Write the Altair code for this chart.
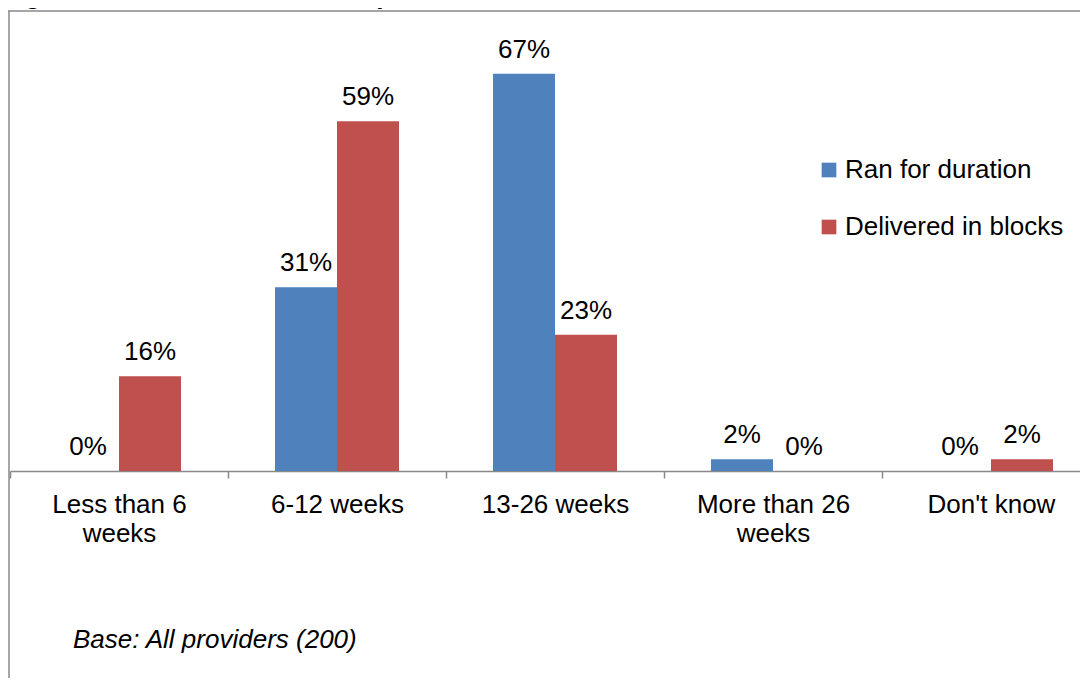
import altair as alt
import pandas as pd

# ---- data ----
categories = ["Less than 6 weeks", "6-12 weeks", "13-26 weeks", "More than 26 weeks", "Don't know"]
category_lines = [["Less than 6", "weeks"], ["6-12 weeks"], ["13-26 weeks"], ["More than 26", "weeks"], ["Don't know"]]
series = ["Ran for duration", "Delivered in blocks"]
ran_for_duration = [0, 31, 67, 2, 0]
delivered_in_blocks = [16, 59, 23, 0, 2]
colors = ["#4F81BD", "#C0504D"]
title_text = "Figure 10: Duration of work experience element"
base_note = "Base: All providers (200)"

rows = []
for c, a, b in zip(categories, ran_for_duration, delivered_in_blocks):
    rows.append({"category": c, "series": series[0], "value": a, "label": f"{a}%"})
    rows.append({"category": c, "series": series[1], "value": b, "label": f"{b}%"})
df = pd.DataFrame(rows)

FONT = "Liberation Sans"
GREY = "#898989"
W, H = 1071, 460

# label expression for two-line category labels
parts = []
for c, lines in zip(categories, category_lines):
    if len(lines) > 1:
        arr = "[" + ", ".join("'" + s.replace("'", "\\'") + "'" for s in lines) + "]"
        parts.append(f"datum.label == '{c}' ? {arr} : ")
label_expr = "".join(parts) + "datum.label"

x_enc = alt.X(
    "category:N",
    sort=categories,
    scale=alt.Scale(range=[1, 1091], paddingInner=0, paddingOuter=0),
    axis=alt.Axis(
        title=None, labelAngle=0, tickBand="extent", tickSize=7, tickColor=GREY,
        tickWidth=1.5, domainColor=GREY, domainWidth=1.5, labelFont=FONT,
        labelFontSize=26, labelColor="#000000", labelPadding=13, labelLineHeight=29,
        labelLimit=0, labelOverlap=False, labelFlush=False, labelExpr=label_expr,
    ),
)
xoff = alt.XOffset("series:N", sort=series, scale=alt.Scale(paddingInner=0, paddingOuter=0.758))
y_enc = alt.Y("value:Q", scale=alt.Scale(domain=[0, 77.6], nice=False, zero=True), axis=None)

base = alt.Chart(df)

bars = base.mark_bar().encode(
    x=x_enc,
    xOffset=xoff,
    y=y_enc,
    color=alt.Color(
        "series:N",
        sort=series,
        scale=alt.Scale(domain=series, range=colors),
        legend=alt.Legend(
            title=None, orient="none", legendX=807, legendY=146, symbolType="square",
            symbolSize=215, symbolStrokeWidth=0, labelFontSize=26, labelFont=FONT,
            labelColor="#000000", labelOffset=3, rowPadding=31, padding=0, labelLimit=400,
        ),
    ),
)

labels = base.mark_text(font=FONT, fontSize=26, color="#000000", baseline="alphabetic", dy=-16).encode(
    x=alt.X("category:N", sort=categories),
    xOffset=alt.XOffset("series:N", sort=series),
    y=alt.Y("value:Q"),
    text="label:N",
)

one = pd.DataFrame({"k": [0]})
top_border = alt.Chart(one).mark_rule(color=GREY, strokeWidth=1.5).encode(
    x=alt.value(-1), x2=alt.value(1100), y=alt.value(0)
)
left_border = alt.Chart(one).mark_rule(color=GREY, strokeWidth=1.5).encode(
    x=alt.value(0), y=alt.value(0), y2=alt.value(700)
)

title_mark = alt.Chart(pd.DataFrame({"t": [title_text]})).mark_text(
    font=FONT, fontSize=26, fontWeight="bold", align="left", baseline="alphabetic", color="#000000"
).encode(x=alt.value(-7), y=alt.value(-7), text="t:N")

note = alt.Chart(pd.DataFrame({"t": [base_note]})).mark_text(
    font=FONT, fontSize=26, fontStyle="italic", align="left", baseline="alphabetic", color="#000000"
).encode(x=alt.value(64), y=alt.value(637), text="t:N")

chart = (
    alt.layer(bars, labels, top_border, left_border, title_mark, note)
    .properties(
        width=W,
        height=H,
        autosize=alt.AutoSizeParams(type="none"),
        padding={"left": 1, "top": 3, "right": 0, "bottom": 207},
        background="white",
    )
    .configure_view(stroke=None)
)

chart.save("out.html", embed_options={"renderer": "svg", "actions": False})
